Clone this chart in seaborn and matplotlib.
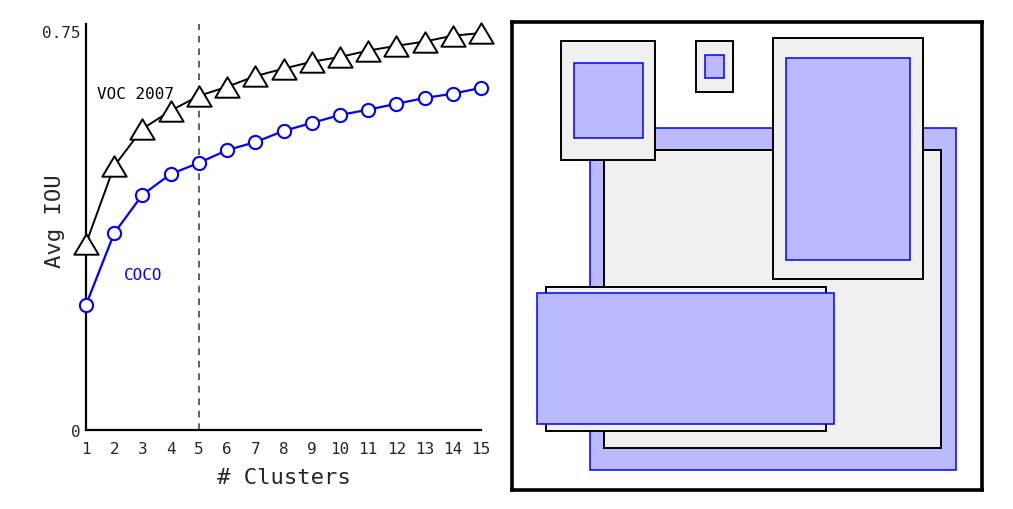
import matplotlib
matplotlib.use("Agg")
import matplotlib.pyplot as plt
from matplotlib.patches import Rectangle
from matplotlib.path import Path
import seaborn as sns

# Avg IOU vs number of anchor clusters
clusters = list(range(1, 16))
voc_iou = [0.350, 0.496, 0.566, 0.600, 0.628, 0.645, 0.665, 0.679,
           0.692, 0.701, 0.713, 0.722, 0.730, 0.741, 0.746]
coco_iou = [0.235, 0.370, 0.442, 0.481, 0.502, 0.526, 0.541, 0.562,
            0.577, 0.592, 0.602, 0.613, 0.624, 0.632, 0.643]
chosen_k = 5

# prior boxes drawn in the right panel, (x0, y0, x1, y1) in a unit frame, y downwards
# kind "voc" = gray/black, "coco" = blue
box_kinds = ["coco", "voc", "voc", "coco", "voc", "coco", "voc", "coco", "voc", "coco"]
box_coords = [
    (0.165, 0.226, 0.944, 0.957),
    (0.196, 0.274, 0.913, 0.910),
    (0.105, 0.041, 0.305, 0.294),
    (0.132, 0.087, 0.278, 0.248),
    (0.391, 0.041, 0.470, 0.150),
    (0.410, 0.071, 0.451, 0.120),
    (0.556, 0.034, 0.874, 0.550),
    (0.583, 0.077, 0.847, 0.509),
    (0.072, 0.566, 0.668, 0.873),
    (0.054, 0.578, 0.685, 0.860),
]

sns.set_style("white")
plt.rcParams['font.family'] = ['DejaVu Sans Mono', 'DejaVu Sans']

fig = plt.figure(figsize=(10.13, 5.10), dpi=100)

# ---- left: IOU curves
ax = fig.add_axes([86 / 1013, 79 / 510, 395 / 1013, 406 / 510])
# wide triangle marker (closed path so the outline is complete)
tri = Path([(-1, -0.84), (1, -0.84), (0, 0.84), (-1, -0.84)],
           [Path.MOVETO, Path.LINETO, Path.LINETO, Path.CLOSEPOLY])
sns.lineplot(x=clusters, y=voc_iou, ax=ax, color="black", lw=1.4,
             marker=tri, markersize=17.5, markerfacecolor="white",
             markeredgecolor="black", markeredgewidth=1.4, clip_on=False, zorder=4)
sns.lineplot(x=clusters, y=coco_iou, ax=ax, color="blue", lw=1.6,
             marker="o", markersize=9.5, markerfacecolor="white",
             markeredgecolor="blue", markeredgewidth=1.5, clip_on=False, zorder=4)
ax.axvline(chosen_k, color="#444444", lw=1.2, ls=(0, (4, 3.5)), zorder=1)

ax.text(1.39, 0.633, "VOC 2007", fontsize=11.5, color="black", va="center", ha="left")
ax.text(2.35, 0.293, "COCO", fontsize=11.5, color="blue", va="center", ha="left")

ax.set_xlim(1, 15)
ax.set_ylim(0, 0.763)
ax.set_xticks(clusters)
ax.set_xticklabels([str(c) for c in clusters])
ax.set_yticks([0, 0.75])
ax.set_yticklabels(["0", "0.75"])
ax.tick_params(axis="both", length=0, labelsize=11.5)
ax.tick_params(axis="x", pad=8)
ax.tick_params(axis="y", pad=4)
ax.set_xlabel("# Clusters", fontsize=16, labelpad=8)
ax.set_ylabel("Avg IOU", fontsize=16)
ax.yaxis.set_label_coords(-0.053, 0.517)
sns.despine(ax=ax)
for s in ("left", "bottom"):
    ax.spines[s].set_linewidth(1.6)
    ax.spines[s].set_color("black")

# ---- right: cluster priors
ax2 = fig.add_axes([512 / 1013, 19 / 510, 470 / 1013, 468 / 510])
ax2.set_xlim(0, 1)
ax2.set_ylim(1, 0)
for kind, (x0, y0, x1, y1) in zip(box_kinds, box_coords):
    if kind == "voc":
        fc, ec, lw = "#f0f0f0", "black", 1.4
    else:
        fc, ec, lw = "#babafd", "blue", 1.1
    ax2.add_patch(Rectangle((x0, y0), x1 - x0, y1 - y0, facecolor=fc,
                            edgecolor=ec, lw=lw))
ax2.set_xticks([])
ax2.set_yticks([])
for s in ax2.spines.values():
    s.set_visible(True)
    s.set_color("black")
    s.set_linewidth(2.6)

fig.savefig("out.png", dpi=100)
